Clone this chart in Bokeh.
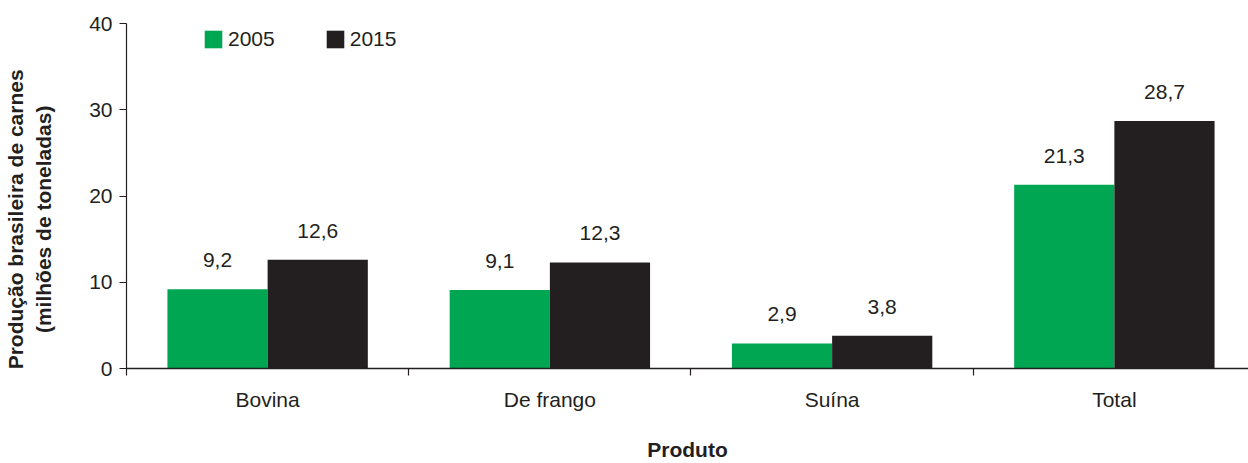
from bokeh.plotting import figure
from bokeh.models import ColumnDataSource, FixedTicker, LabelSet, Range1d, LinearAxis
from bokeh.transform import dodge
from bokeh.core.properties import value
from bokeh.embed import file_html
from bokeh.resources import INLINE

# ---- data ----
categories = ["Bovina", "De frango", "Suína", "Total"]
values_2005 = [9.2, 9.1, 2.9, 21.3]
values_2015 = [12.6, 12.3, 3.8, 28.7]
series_names = ["2005", "2015"]
y_ticks = [0, 10, 20, 30, 40]
y_title_lines = ["Produção brasileira de carnes", "(milhões de toneladas)"]
x_title = "Produto"

# ---- style ----
GREEN = "#00A651"
BLACK = "#231F20"
FONT = "Liberation Sans"
FS = "21px"

x_centers = [i + 0.5 for i in range(len(categories))]


def fmt(v):
    return f"{v:.1f}".replace(".", ",")


src = ColumnDataSource(dict(
    x=x_centers, cat=categories, v05=values_2005, v15=values_2015,
    l05=[fmt(v) for v in values_2005], l15=[fmt(v) for v in values_2015],
))

W, H = 1248, 463
ML, MT, MB = 125, 23, 95
frame_w = W - ML
unit_px = 282.5

p = figure(width=W, height=H, output_backend="svg", toolbar_location=None,
           x_range=Range1d(0, frame_w / unit_px), y_range=Range1d(0, 40),
           min_border_left=ML, min_border_right=0, min_border_top=MT,
           min_border_bottom=MB)
p.outline_line_color = None
p.xgrid.visible = False
p.ygrid.visible = False
p.background_fill_color = "white"

off = 0.1775
bw = 0.355
p.vbar(x=dodge("x", -off), top="v05", width=bw, source=src,
       fill_color=GREEN, line_color=None, legend_label=series_names[0])
p.vbar(x=dodge("x", off), top="v15", width=bw, source=src,
       fill_color=BLACK, line_color=None, legend_label=series_names[1])

for col, lab, o in (("v05", "l05", -off), ("v15", "l15", off)):
    p.add_layout(LabelSet(x=dodge("x", o), y=col, text=lab, source=src,
                          y_offset=22, text_align="center",
                          text_baseline="alphabetic", text_font=value(FONT),
                          text_font_size=FS, text_color=BLACK))

# y axis (line, ticks, labels)
ya = p.yaxis[0]
ya.ticker = FixedTicker(ticks=y_ticks)
ya.major_tick_out = 7
ya.major_tick_in = 0
ya.minor_tick_out = 0
ya.minor_tick_in = 0
ya.major_label_standoff = 7
ya.major_label_text_font = FONT
ya.major_label_text_font_size = FS
ya.major_label_text_color = BLACK
ya.axis_line_color = BLACK
ya.axis_line_width = 1.2
ya.major_tick_line_color = BLACK
ya.major_tick_line_width = 1.2

# second left axis carrying only the two-line title; trailing no-break
# spaces shift the visible title a little below the frame's middle
pad = "\u00a0" * 8
yt = LinearAxis(ticker=FixedTicker(ticks=[]),
                axis_line_color=None, major_tick_line_color=None,
                minor_tick_line_color=None, major_label_text_alpha=0,
                axis_label="\n".join(t + pad for t in y_title_lines),
                axis_label_standoff=32,
                axis_label_text_font=FONT, axis_label_text_font_style="bold",
                axis_label_text_font_size=FS, axis_label_text_color=BLACK,
                axis_label_text_line_height=1.2)
p.add_layout(yt, "left")

# x axis
xa = p.xaxis[0]
xa.ticker = FixedTicker(ticks=x_centers,
                        minor_ticks=[float(i) for i in range(len(categories))])
xa.major_label_overrides = {x: c for x, c in zip(x_centers, categories)}
xa.major_tick_out = 0
xa.major_tick_in = 0
xa.minor_tick_out = 7
xa.minor_tick_in = 0
xa.minor_tick_line_color = BLACK
xa.minor_tick_line_width = 1.2
xa.major_label_standoff = 12
xa.major_label_text_font = FONT
xa.major_label_text_font_size = FS
xa.major_label_text_color = BLACK
xa.axis_line_color = BLACK
xa.axis_line_width = 1.5
xa.axis_label = x_title
xa.axis_label_standoff = 24
xa.axis_label_text_font = FONT
xa.axis_label_text_font_style = "bold"
xa.axis_label_text_font_size = FS
xa.axis_label_text_color = BLACK

# legend
lg = p.legend[0]
lg.orientation = "horizontal"
lg.location = (76, 317.5)
lg.glyph_width = 22
lg.glyph_height = 22
lg.label_height = 22
lg.label_standoff = 4
lg.spacing = 49
lg.padding = 0
lg.margin = 0
lg.border_line_alpha = 0
lg.background_fill_alpha = 0
lg.label_text_font = FONT
lg.label_text_font_size = FS
lg.label_text_color = BLACK

open("out.html", "w").write(file_html(p, INLINE))
